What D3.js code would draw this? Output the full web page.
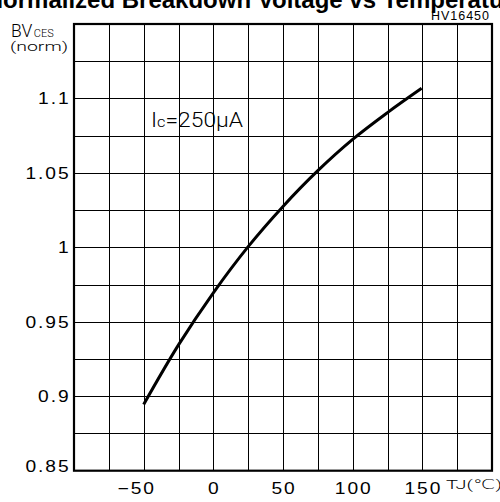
<!DOCTYPE html>
<html>
<head>
<meta charset="utf-8">
<script src="https://cdn.jsdelivr.net/npm/d3@7"></script>
<style>
  body { margin: 0; background: #fff; }
  svg { display: block; }
</style>
</head>
<body>
<svg id="chart"></svg>
<script>
// Normalized BVces vs junction temperature
const tempC = [-50, -25, 0, 25, 50, 75, 100, 125, 149.5];
const bvNorm = [0.8945, 0.9345, 0.9695, 1.0005, 1.0275, 1.0515, 1.0725, 1.0905, 1.1068];

const xTickLabels = [-50, 0, 50, 100, 150];
const yTickLabels = [0.85, 0.9, 0.95, 1, 1.05, 1.1];

const W = 500, H = 502;
const margin = {top: 24, right: 8, bottom: 31.3, left: 74};

const svg = d3.select("#chart").attr("width", W).attr("height", H);

const x = d3.scaleLinear().domain([-100, 200]).range([margin.left, W - margin.right]);
const y = d3.scaleLinear().domain([0.85, 1.15]).range([H - margin.bottom, margin.top]);

// title, cut off at the top like the scan
svg.append("text")
    .attr("x", 256).attr("y", 8)
    .attr("text-anchor", "middle")
    .style("font", "bold 24px 'Liberation Sans', Arial, sans-serif")
    .text("Normalized Breakdown Voltage vs Temperature");

svg.append("text")
    .attr("x", 490).attr("y", 20)
    .attr("text-anchor", "end")
    .style("font", "12.5px 'Liberation Sans', Arial, sans-serif")
    .style("letter-spacing", "1px")
    .text("HV16450");

// grid
const grid = svg.append("g").attr("stroke", "#000").attr("stroke-width", 1).attr("shape-rendering", "crispEdges");
grid.selectAll("line.v")
  .data(d3.range(-75, 200, 25))
  .join("line")
    .attr("x1", d => Math.round(x(d)) + 0.5).attr("x2", d => Math.round(x(d)) + 0.5)
    .attr("y1", y(1.15)).attr("y2", y(0.85));
grid.selectAll("line.h")
  .data(d3.range(0.875, 1.149, 0.025))
  .join("line")
    .attr("y1", d => Math.round(y(d)) + 0.5).attr("y2", d => Math.round(y(d)) + 0.5)
    .attr("x1", x(-100)).attr("x2", x(200));

// frame
svg.append("rect")
    .attr("x", x(-100)).attr("y", y(1.15))
    .attr("width", x(200) - x(-100)).attr("height", y(0.85) - y(1.15))
    .attr("fill", "none").attr("stroke", "#000").attr("stroke-width", 2.2);

// tick labels: wide, spaced-out digits
const tickFont = "16px 'Liberation Sans', Arial, sans-serif";
svg.append("g").selectAll("text")
  .data(xTickLabels)
  .join("text")
    .attr("transform", d => `translate(${x(d) + 1 - (d < 0 ? 8 : 0)},494) scale(1.2,1)`)
    .attr("text-anchor", "middle")
    .style("font", tickFont)
    .style("letter-spacing", "1.6px")
    .text(d => d < 0 ? "\u2212" + Math.abs(d) : d);

svg.append("g").selectAll("text")
  .data(yTickLabels)
  .join("text")
    .attr("transform", d => `translate(70.5,${y(d) + (d === 0.85 ? -4 : 0)}) scale(1.2,1)`)
    .attr("text-anchor", "end")
    .attr("dy", "0.36em")
    .style("font", tickFont)
    .style("letter-spacing", "1.6px")
    .text(d => d);

// axis titles, thin CAD-ish lettering
const thin = "'Roboto', 'DejaVu Sans', sans-serif";
const yTitle = svg.append("text")
    .attr("x", 11).attr("y", 36.5)
    .style("font-family", thin).style("font-weight", 300);
yTitle.append("tspan").style("font-size", "17.5px").text("BV");
yTitle.append("tspan").style("font-size", "11px").attr("dx", 1.5).text("CES");

svg.append("text")
    .attr("x", 10).attr("y", 51)
    .attr("textLength", 58).attr("lengthAdjust", "spacingAndGlyphs")
    .style("font-family", thin).style("font-weight", 300).style("font-size", "13px")
    .text("(norm)");

svg.append("text")
    .attr("x", 446).attr("y", 488.5)
    .attr("textLength", 56).attr("lengthAdjust", "spacingAndGlyphs")
    .style("font-family", thin).style("font-weight", 300).style("font-size", "13.5px")
    .text("TJ(\u2103)");

const note = svg.append("text")
    .attr("x", 151).attr("y", 126.5)
    .attr("textLength", 92).attr("lengthAdjust", "spacingAndGlyphs")
    .style("font-family", thin).style("font-weight", 300).style("font-size", "21px");
note.append("tspan").text("I");
note.append("tspan").style("font-size", "15px").text("c");
note.append("tspan").text("=250\u03bcA");

// curve
const line = d3.line()
    .x((d, i) => x(tempC[i]))
    .y(d => y(d))
    .curve(d3.curveCatmullRom.alpha(0.5));

svg.append("path")
    .datum(bvNorm)
    .attr("fill", "none")
    .attr("stroke", "#000")
    .attr("stroke-width", 3)
    .attr("stroke-linecap", "butt")
    .attr("d", line);
</script>
</body>
</html>
